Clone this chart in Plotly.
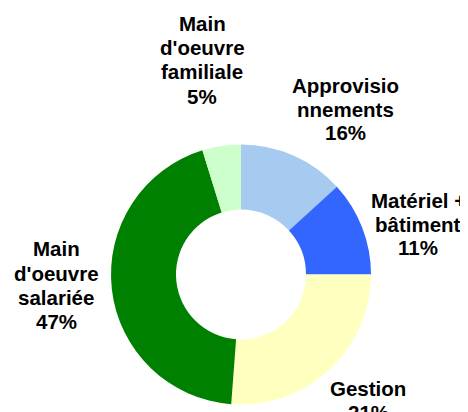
import plotly.graph_objects as go

# Data (slice order: clockwise from 12 o'clock)
categories = ["Approvisionnements", "Matériel + bâtiment", "Gestion",
              "Main d'oeuvre salariée", "Main d'oeuvre familiale"]
slice_values = [13.2, 11.8, 26.2, 44.0, 4.8]
pct_labels = ["16%", "11%", "21%", "47%", "5%"]
colors = ["#A6CAF0", "#3366FF", "#FFFFC0", "#008000", "#CCFFCC"]

# Display wrapping of the category names (as in the original labels)
wrapped = {
    "Approvisionnements": ["Approvisio", "nnements"],
    "Matériel + bâtiment": ["Matériel +", "bâtiment"],
    "Gestion": ["Gestion"],
    "Main d'oeuvre salariée": ["Main", "d'oeuvre", "salariée"],
    "Main d'oeuvre familiale": ["Main", "d'oeuvre", "familiale"],
}

W, H = 468, 412
OFF = 8  # page body margin offset
FONT = dict(family="Liberation Sans, Arial, sans-serif", size=20.5, color="#000000")
LINE_STEP = 24
# label anchor: (centre x px, first-line baseline y px) in window coordinates
label_pos = {
    "Approvisionnements": (345, 92),
    "Matériel + bâtiment": (418, 207),
    "Gestion": (368, 395),
    "Main d'oeuvre salariée": (56, 256),
    "Main d'oeuvre familiale": (202, 31),
}

cx_p, cy_p, r_p = 241 - OFF, 274.5 - OFF, 130
fig = go.Figure(go.Pie(
    labels=categories,
    values=slice_values,
    hole=0.5,
    sort=False,
    direction="clockwise",
    rotation=0,
    marker=dict(colors=colors, line=dict(width=0)),
    textinfo="none",
    hoverinfo="label+percent",
    domain=dict(x=[(cx_p - r_p) / W, (cx_p + r_p) / W],
                y=[(H - cy_p - r_p) / H, (H - cy_p + r_p) / H]),
    showlegend=False,
))

annotations = []
for cat, pct in zip(categories, pct_labels):
    lines = wrapped[cat] + [pct]
    cx, by = label_pos[cat]
    for i, line in enumerate(lines):
        base = by + i * LINE_STEP - OFF
        mid = base - 7
        annotations.append(dict(
            x=(cx - OFF) / W, y=1 - mid / H, xref="paper", yref="paper",
            text="<b>" + line + "</b>", showarrow=False,
            xanchor="center", yanchor="middle", font=FONT,
        ))

fig.update_layout(
    width=W, height=H,
    margin=dict(l=0, r=0, t=0, b=0),
    paper_bgcolor="white", plot_bgcolor="white",
    annotations=annotations,
)

fig.write_html("out.html")
